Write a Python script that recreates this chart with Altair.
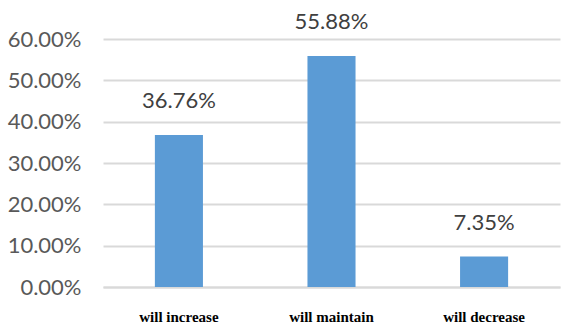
import altair as alt
import pandas as pd

categories = ["will increase", "will maintain", "will decrease"]
values = [0.3676, 0.5588, 0.0735]

df = pd.DataFrame({"category": categories, "value": values})

base = alt.Chart(df).encode(
    x=alt.X("category:N", sort=categories, title=None,
            scale=alt.Scale(paddingInner=0.685, paddingOuter=0.34),
            axis=alt.Axis(labelAngle=0, labelFont="Liberation Serif", labelFontWeight="bold",
                          labelFontSize=15, labelColor="#000000", labelPadding=22,
                          ticks=False, domain=True, domainColor="#d9d9d9", domainWidth=2)),
    y=alt.Y("value:Q", title=None,
            scale=alt.Scale(domain=[0, 0.6], nice=False),
            axis=alt.Axis(format=".2%", values=[0, 0.1, 0.2, 0.3, 0.4, 0.5, 0.6],
                          labelFont="Lato", labelFontSize=22, labelColor="#595959",
                          labelPadding=22, ticks=False, domain=False,
                          grid=True, gridColor="#d9d9d9", gridWidth=2)),
)

bars = base.mark_bar(color="#5b9bd5")
text = base.mark_text(baseline="bottom", dy=-22, font="Lato", fontSize=22,
                      color="#404040").encode(text=alt.Text("value:Q", format=".2%"))

chart = (bars + text).properties(
    width=457, height=248,
    padding={"left": 103, "top": 39, "right": 1, "bottom": 38},
    autosize=alt.AutoSizeParams(type="none"),
).configure_view(stroke=None)

chart.save("out.html", embed_options={"renderer": "svg", "actions": False})
